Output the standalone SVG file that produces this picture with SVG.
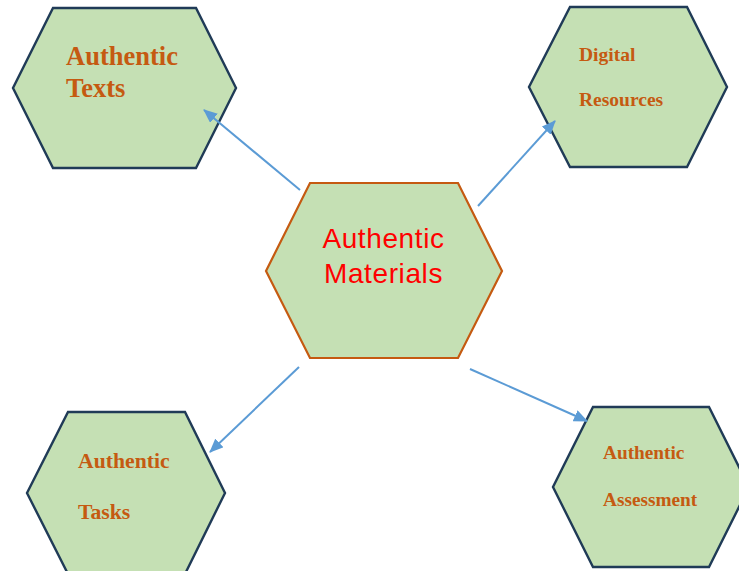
<svg xmlns="http://www.w3.org/2000/svg" width="739" height="571" viewBox="0 0 739 571">
<defs>
<style>
.hex{fill:#C5E0B4;stroke:#203B57;stroke-width:2.4;stroke-linejoin:miter}
.hexc{fill:#C5E0B4;stroke:#C55A11;stroke-width:2.2}
.lbl{font-family:"Liberation Serif","Times New Roman",serif;font-weight:bold;fill:#C55A11}
.ctr{font-family:"Liberation Sans",Arial,sans-serif;fill:#FF0000;font-size:28px;text-anchor:middle;letter-spacing:0.6px}
.con{stroke:#5B9BD5;stroke-width:2;fill:none;marker-end:url(#ah)}
</style>
<marker id="ah" viewBox="0 0 14 12" refX="13" refY="6" markerWidth="14" markerHeight="12" markerUnits="userSpaceOnUse" orient="auto">
<path d="M0,0 L14,6 L0,12 z" fill="#5B9BD5"/>
</marker>
</defs>
<rect width="739" height="571" fill="#FFFFFF"/>
<g id="node-texts">
<polygon class="hex" points="53,8 196,8 236,88 196,168 53,168 13,88"/>
<text class="lbl" style="font-size:26.5px" x="66" y="65">Authentic</text>
<text class="lbl" style="font-size:26.5px" x="66" y="97">Texts</text>
</g>
<g id="node-digital">
<polygon class="hex" points="570,7 687,7 727,87 687,167 570,167 529,87"/>
<text class="lbl" style="font-size:19.5px" x="579" y="61">Digital</text>
<text class="lbl" style="font-size:19.5px" x="579" y="106">Resources</text>
</g>
<g id="node-center">
<polygon class="hexc" points="310,183 458,183 502,271 458,358 310,358 266,271"/>
<text class="ctr" x="383.5" y="248">Authentic</text>
<text class="ctr" x="383.5" y="283">Materials</text>
</g>
<g id="node-tasks">
<polygon class="hex" points="68,412 185,412 225,493 185,574 68,574 27,493"/>
<text class="lbl" style="font-size:21.7px" x="78" y="468">Authentic</text>
<text class="lbl" style="font-size:21.7px" x="78" y="519">Tasks</text>
</g>
<g id="node-assessment">
<polygon class="hex" points="593,407 709,407 749,487 709,567 593,567 553,487"/>
<text class="lbl" style="font-size:19.3px" x="603" y="459">Authentic</text>
<text class="lbl" style="font-size:19.3px" x="603" y="506">Assessment</text>
</g>
<g id="connectors">
<line class="con" x1="300" y1="190" x2="204" y2="110"/>
<line class="con" x1="478" y1="206" x2="555" y2="121"/>
<line class="con" x1="299" y1="367" x2="210" y2="452"/>
<line class="con" x1="470" y1="369" x2="587" y2="421"/>
</g>
</svg>
